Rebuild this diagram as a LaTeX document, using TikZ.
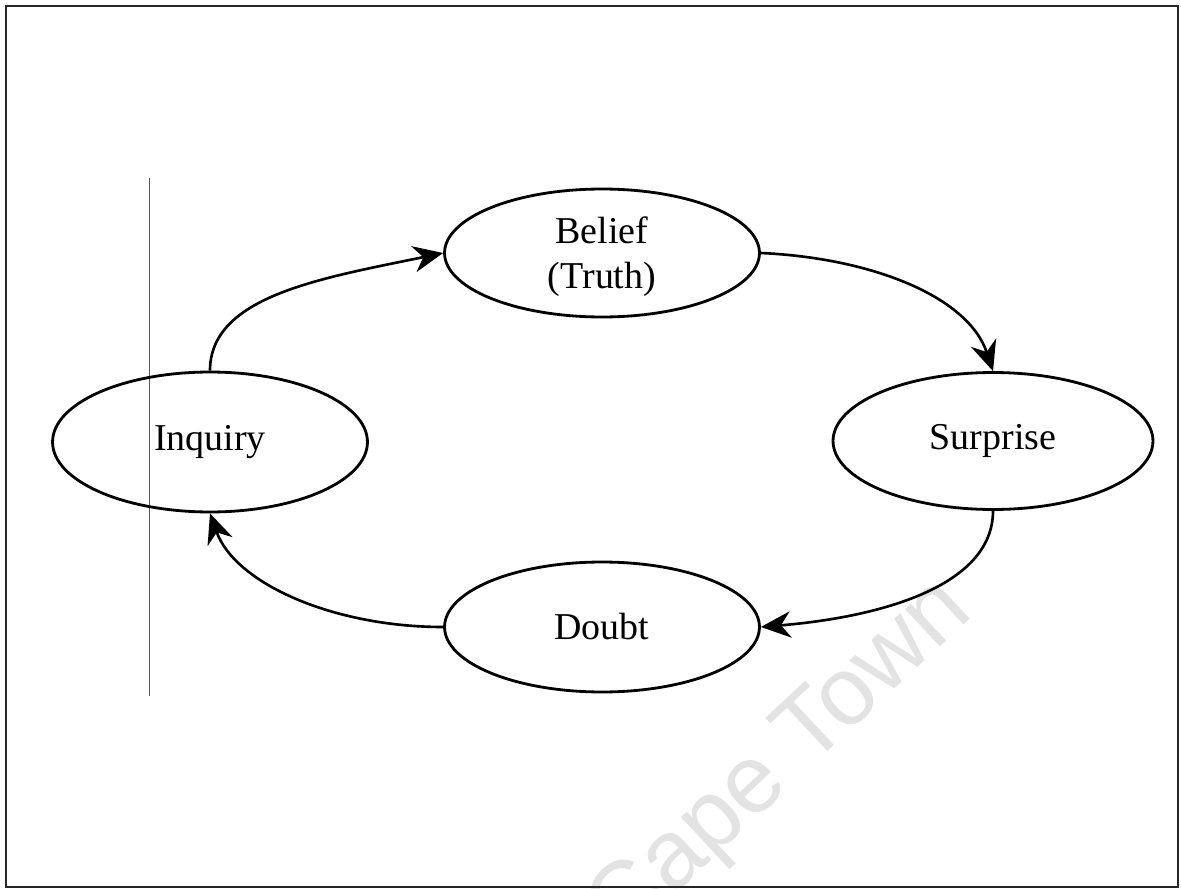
\documentclass[tikz,border=0pt]{standalone}
\usepackage{fontspec}
\setmainfont{Liberation Serif}
\newfontfamily\wmfont{Liberation Sans}
\usetikzlibrary{shapes.geometric,arrows.meta}

\tikzset{
  stage/.style={ellipse, draw=black, line width=1.6pt, inner sep=0pt,
    font=\fontsize{21.6}{25.5}\selectfont, align=center},
  flow/.style={line width=1.5pt,
    -{Stealth[length=17pt, width=15pt, inset=5.5pt]}},
  frame/.style={draw=black!85, line width=1.1pt},
  rule/.style={draw=black!65, line width=0.5pt},
  watermark/.style={text=black!11, font=\wmfont\fontsize{55}{60}\selectfont}
}

\begin{document}
\begin{tikzpicture}[x=0.02cm, y=-0.02cm]
  \useasboundingbox (0,0) rectangle (1181,889);
  \fill[white] (0,0) rectangle (1181,889);

  % faint watermark behind the cycle
  \begin{scope}
    \clip (0,0) rectangle (1181,889);
    \node[watermark, rotate=43] (wm) at (782,762) {Cape Town};
  \end{scope}

  % outer frame and margin rule
  \draw[frame] (6,6) rectangle (1178,887);
  \coordinate (ruletop) at (149,178);
  \coordinate (rulebot) at (149,696);
  \draw[rule] (ruletop) -- (rulebot);

  % the four stages
  \node[stage, minimum width=6.3cm, minimum height=2.56cm] (bel) at (602,253) {};
  \node[font=\fontsize{21.6}{25.5}\selectfont, align=center, inner sep=0pt]
    (beltext) at (602,257) {Belief\\(Truth)};
  \node[stage, minimum width=6.3cm, minimum height=2.8cm] (inq) at (210,442) {Inquiry};
  \node[stage, minimum width=6.4cm, minimum height=2.74cm] (sur) at (993,441) {Surprise};
  \node[stage, minimum width=6.3cm, minimum height=2.6cm] (dou) at (602,627) {Doubt};

  % the cycle
  \draw[flow] (inq.north) .. controls +(0,-75) and +(-120,25) .. (bel.west);
  \draw[flow] (bel.east) .. controls +(110,5) and +(-25,-75) .. (sur.north);
  \draw[flow] (sur.south) .. controls +(0,75) and +(120,-10) .. (dou.east);
  \draw[flow] (dou.west) .. controls +(-110,0) and +(25,70) .. (inq.south);
\end{tikzpicture}
\end{document}
